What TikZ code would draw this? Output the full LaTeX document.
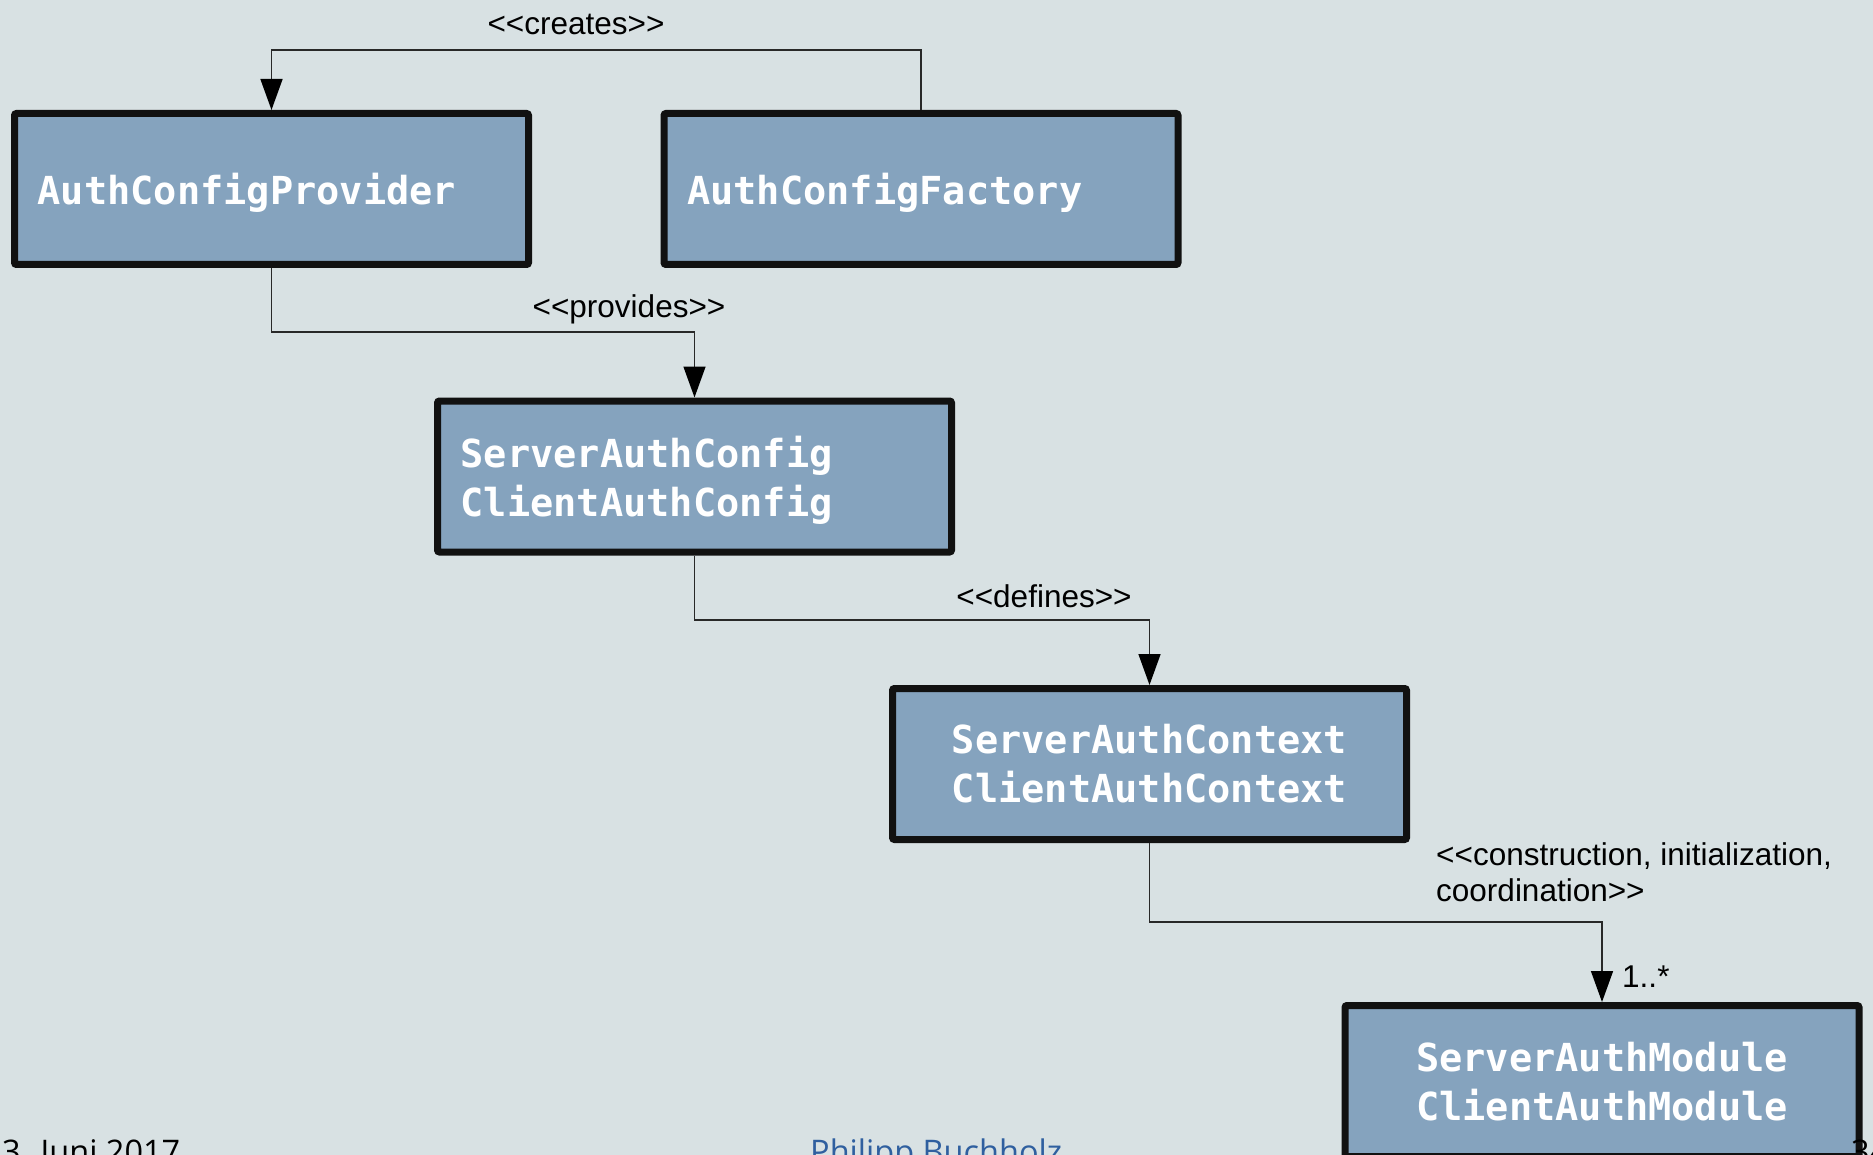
\documentclass[tikz,border=0pt]{standalone}
\usepackage{fontspec}
\usetikzlibrary{arrows.meta}
\newfontfamily\boxfont{DejaVu Sans Mono}
\newfontfamily\labfont{Liberation Sans}
\newfontfamily\footfont{Open Sans}
\definecolor{bgcol}{RGB}{216,225,227}
\definecolor{boxcol}{RGB}{133,163,190}
\definecolor{bordcol}{RGB}{17,17,17}
\definecolor{linecol}{RGB}{40,40,40}
\definecolor{footblue}{RGB}{47,95,159}
\tikzset{
  umlbox/.style={draw=bordcol, line width=7pt, fill=boxcol, rounded corners=2pt,
    minimum width=514pt, minimum height=151pt, inner sep=0pt},
  boxtext/.style={text=white, inner sep=0pt,
    font=\boxfont\bfseries\fontsize{38.6}{49}\selectfont},
  lefttext/.style={boxtext, anchor=west, align=left},
  centtext/.style={boxtext, align=center},
  conn/.style={draw=linecol, line width=1.5pt,
    -{Triangle[length=31pt,width=22pt,color=black]}},
  lbl/.style={font=\labfont\fontsize{31.5}{36}\selectfont, text=black, inner sep=0pt},
  foot/.style={font=\footfont\fontsize{32.5}{38}\selectfont, inner sep=0pt}
}
\begin{document}
\begin{tikzpicture}[x=1pt,y=-1pt]
\useasboundingbox (0,0) rectangle (1873,1155);
\clip (0,0) rectangle (1873,1155);
\fill[bgcol] (0,0) rectangle (1873,1155);

\node[umlbox] (b1) at (271.5,189) {};
\node[umlbox] (b2) at (921,189) {};
\node[umlbox] (b3) at (694.5,476.5) {};
\node[umlbox] (b4) at (1149.5,764) {};
\node[umlbox] (b5) at (1602,1081) {};

\node[lefttext] (t1) at ([xshift=26.5pt,yshift=-4pt]b1.west) {AuthConfigProvider};
\node[lefttext] (t2) at ([xshift=26.5pt,yshift=-4pt]b2.west) {AuthConfigFactory};
\node[lefttext] (t3) at ([xshift=26.5pt,yshift=-4pt]b3.west) {ServerAuthConfig\\ClientAuthConfig};
\node[centtext] (t4) at ([yshift=0pt]b4.center) {ServerAuthContext\\ClientAuthContext};
\node[centtext] (t5) at ([yshift=-1pt]b5.center) {ServerAuthModule\\ClientAuthModule};

\coordinate (c1) at (0,50);
\coordinate (c2) at (0,332);
\coordinate (c3) at (0,620);
\coordinate (c4) at (0,922);

\draw[conn] (b2.north) -- (b2.north |- c1) -| (b1.north);
\draw[conn] (b1.south) -- (b1.south |- c2) -| (b3.north);
\draw[conn] (b3.south) -- (b3.south |- c3) -| (b4.north);
\draw[conn] (b4.south) -- (b4.south |- c4) -| (b5.north);

\node[lbl] (l1) at (576,24) {<{}<creates>{}>};
\node[lbl] (l2) at (629,309) {<{}<provides>{}>};
\node[lbl] (l3) at (1044,596) {<{}<defines>{}>};
\node[lbl, anchor=west, align=left] (l4) at (1436,872) {<{}<construction, initialization,\\coordination>{}>};
\node[lbl, anchor=west] (l5) at (1622,977) {1..*};

\node[foot, anchor=base west] (f1) at (2,1163) {3. Juni 2017};
\node[foot, anchor=base west, text=footblue] (f2) at (810,1163) {Philipp Buchholz};
\node[foot, anchor=base west] (f3) at (1851,1163) {34};
\end{tikzpicture}
\end{document}
